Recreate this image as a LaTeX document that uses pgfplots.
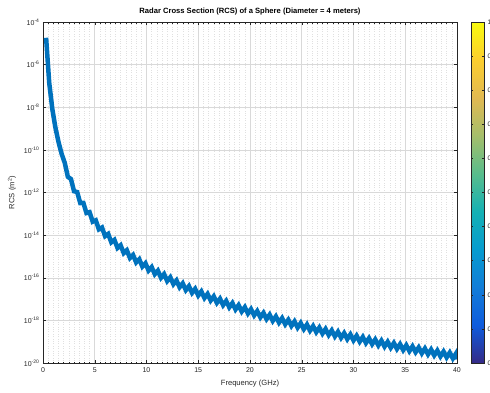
\documentclass[border=0pt]{standalone}
\usepackage{pgfplots}
\pgfplotsset{compat=1.18}
\usepackage{fontspec}
\setmainfont{Liberation Sans}
\definecolor{mblue}{RGB}{0,114,189}
\definecolor{mgray}{RGB}{38,38,38}
\begin{document}
\begin{tikzpicture}
\useasboundingbox (-43pt,-29pt) rectangle (447pt,363pt);
\clip (-43pt,-29pt) rectangle (447pt,363pt);
\begin{axis}[
  at={(0,0)}, anchor=south west,
  scale only axis, width=414pt, height=341pt,
  xmin=0, xmax=40, ymin=1e-20, ymax=1e-4, ymode=log,
  xtick={0,5,...,40},
  ytick={1e-20,1e-18,1e-16,1e-14,1e-12,1e-10,1e-8,1e-6,1e-4},
  yticklabels={10\textsuperscript{-20},10\textsuperscript{-18},10\textsuperscript{-16},10\textsuperscript{-14},10\textsuperscript{-12},10\textsuperscript{-10},10\textsuperscript{-8},10\textsuperscript{-6},10\textsuperscript{-4}},
  minor x tick num=9,
  /pgf/number format/assume math mode=true,
  grid=both,
  major grid style={black!15, line width=0.5pt},
  minor grid style={black!12, dotted, line width=0.4pt},
  tick align=inside,
  major tick length=3pt, minor tick length=1.5pt,
  axis line style={mgray, line width=0.5pt},
  tick style={mgray, line width=0.4pt},
  ticklabel style={font=\fontsize{7}{8}\selectfont, text=mgray},
  xticklabel style={yshift=-1pt},
  title={Radar Cross Section (RCS) of a Sphere (Diameter = 4 meters)},
  title style={font=\bfseries\fontsize{7.6}{9}\selectfont, at={(axis description cs:0.5,1)}, anchor=south, yshift=-3pt},
  xlabel={Frequency (GHz)},
  xlabel style={font=\fontsize{7.6}{9}\selectfont, text=mgray, at={(axis description cs:0.5,-0.059)}, anchor=center},
  ylabel={RCS (m\textsuperscript{2})},
  ylabel style={font=\fontsize{7.6}{9}\selectfont, text=mgray, at={(axis description cs:-0.075,0.5)}, anchor=center, rotate=0},
  colorbar,
  colormap={parula}{rgb255=(53,42,135) rgb255=(15,92,221) rgb255=(18,125,216) rgb255=(7,156,207) rgb255=(21,177,180) rgb255=(89,189,140) rgb255=(165,190,107) rgb255=(225,185,82) rgb255=(252,206,46) rgb255=(249,251,14)},
  point meta min=0, point meta max=1,
  colorbar style={
    at={(parent axis.north east)}, anchor=north west, xshift=5.5pt,
    scale only axis, width=13pt, height=341pt,
    ytick={0,0.1,0.2,0.3,0.4,0.5,0.6,0.7,0.8,0.9,1},
    yticklabel style={font=\fontsize{6.5}{7}\selectfont, text=mgray, /pgf/number format/fixed, /pgf/number format/precision=1},
    /pgf/number format/assume math mode=true,
    tick align=inside, major tick length=2pt,
    axis line style={mgray, line width=0.5pt},
    tick style={mgray, line width=0.4pt},
  },
]
\addplot[mblue, line width=4.5pt, line join=miter, miter limit=6, line cap=butt] coordinates {
(0.3,1.82e-5) (0.6,1.42e-7) (0.9,8.32e-9) (1.2,1.11e-9) (1.5,2.33e-10) (1.8,6.50e-11)
(2.1,2.48e-11) (2.4,5.47e-12) (2.7,4.28e-12) (3.0,1.15e-12) (3.3,1.05e-12) (3.6,3.21e-13)
(3.9,3.26e-13) (4.2,1.09e-13) (4.5,1.19e-13) (4.8,4.28e-14) (5.1,4.98e-14) (5.4,1.87e-14)
(5.7,2.28e-14) (6.0,8.97e-15) (6.3,1.14e-14) (6.6,4.60e-15) (6.9,6.00e-15) (7.2,2.51e-15)
(7.5,3.35e-15) (7.8,1.43e-15) (8.1,1.95e-15) (8.4,8.51e-16) (8.7,1.18e-15) (9.0,5.25e-16)
(9.3,7.41e-16) (9.6,3.34e-16) (9.9,4.79e-16) (10.2,2.18e-16) (10.5,3.17e-16) (10.8,1.47e-16)
(11.1,2.15e-16) (11.4,1.00e-16) (11.7,1.49e-16) (12.0,7.00e-17) (12.3,1.05e-16) (12.6,4.99e-17)
(12.9,7.50e-17) (13.2,3.59e-17) (13.5,5.47e-17) (13.8,2.63e-17) (14.1,4.03e-17) (14.4,1.96e-17)
(14.7,3.01e-17) (15.0,1.47e-17) (15.3,2.28e-17) (15.6,1.12e-17) (15.9,1.74e-17) (16.2,8.57e-18)
(16.5,1.34e-17) (16.8,6.65e-18) (17.1,1.04e-17) (17.4,5.20e-18) (17.7,8.20e-18) (18.0,4.10e-18)
(18.3,6.50e-18) (18.6,3.26e-18) (18.9,5.19e-18) (19.2,2.61e-18) (19.5,4.17e-18) (19.8,2.10e-18)
(20.1,3.37e-18) (20.4,1.71e-18) (20.7,2.74e-18) (21.0,1.39e-18) (21.3,2.24e-18) (21.6,1.15e-18)
(21.9,1.85e-18) (22.2,9.46e-19) (22.5,1.53e-18) (22.8,7.83e-19) (23.1,1.27e-18) (23.4,6.53e-19)
(23.7,1.06e-18) (24.0,5.47e-19) (24.3,8.91e-19) (24.6,4.60e-19) (24.9,7.52e-19) (25.2,3.89e-19)
(25.5,6.37e-19) (25.8,3.30e-19) (26.1,5.41e-19) (26.4,2.81e-19) (26.7,4.61e-19) (27.0,2.40e-19)
(27.3,3.95e-19) (27.6,2.06e-19) (27.9,3.39e-19) (28.2,1.77e-19) (28.5,2.92e-19) (28.8,1.53e-19)
(29.1,2.52e-19) (29.4,1.32e-19) (29.7,2.19e-19) (30.0,1.15e-19) (30.3,1.91e-19) (30.6,1.00e-19)
(30.9,1.66e-19) (31.2,8.73e-20) (31.5,1.45e-19) (31.8,7.64e-20) (32.1,1.27e-19) (32.4,6.70e-20)
(32.7,1.12e-19) (33.0,5.89e-20) (33.3,9.84e-20) (33.6,5.20e-20) (33.9,8.67e-20) (34.2,4.59e-20)
(34.5,7.67e-20) (34.8,4.06e-20) (35.1,6.81e-20) (35.4,3.61e-20) (35.7,6.04e-20) (36.0,3.21e-20)
(36.3,5.37e-20) (36.6,2.85e-20) (36.9,4.80e-20) (37.2,2.55e-20) (37.5,4.29e-20) (37.8,2.28e-20)
(38.1,3.83e-20) (38.4,2.04e-20) (38.7,3.44e-20) (39.0,1.83e-20) (39.3,3.08e-20) (39.6,1.64e-20)
(39.9,2.77e-20) (40.0,1.48e-20)
};
\end{axis}
\end{tikzpicture}
\end{document}
